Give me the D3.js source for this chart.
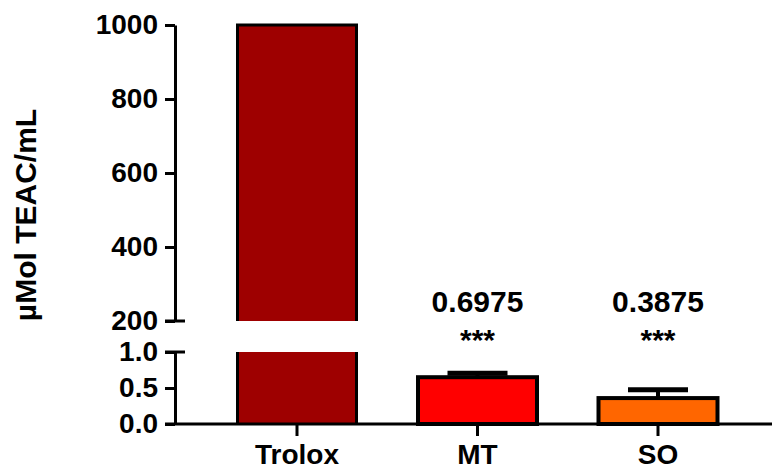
<!DOCTYPE html>
<html>
<head>
<meta charset="utf-8">
<script src="https://cdn.jsdelivr.net/npm/d3@7"></script>
<style>
  body { margin: 0; background: #ffffff; }
  svg text { font-family: "Liberation Sans", Arial, sans-serif; font-weight: bold; fill: #000; }
</style>
</head>
<body>
<div id="chart"></div>
<script>
// data
const categories = ['Trolox', 'MT', 'SO'];
const means = [1000, 0.65, 0.36];
const errors = [0, 0.055, 0.115];
const meanLabels = ['', '0.6975', '0.3875'];
const sigLabels = ['', '***', '***'];
const barColours = ['#9e0000', '#ff0000', '#ff6600'];
const topTicks = [200, 400, 600, 800, 1000];
const bottomTicks = [0, 0.5, 1.0];

const width = 774, height = 470;

const svg = d3.select('#chart').append('svg')
  .attr('width', width)
  .attr('height', height);

// broken y axis: two linear scales
const yTop = d3.scaleLinear().domain([200, 1000]).range([321, 25]);
const yBot = d3.scaleLinear().domain([0, 1]).range([424, 352]);
const x = d3.scalePoint().domain(categories).range([297, 658]);
const barW = 119;
const axisX = 175;

// bars: draw each piece in the segment(s) it reaches
categories.forEach((c, i) => {
  const v = means[i];
  const cx = x(c);
  const g = svg.append('g');
  const botTop = yBot(Math.min(v, 1));
  if (v <= 1 && errors[i] > 0) {
    // error bar (upper only), drawn under the bar outline
    const ey = yBot(v + errors[i]);
    g.append('line')
      .attr('x1', cx).attr('x2', cx).attr('y1', botTop).attr('y2', ey)
      .attr('stroke', '#000').attr('stroke-width', 4);
    g.append('line')
      .attr('x1', cx - 30).attr('x2', cx + 30).attr('y1', ey).attr('y2', ey)
      .attr('stroke', '#000').attr('stroke-width', 5);
  }
  g.append('rect')
    .attr('x', cx - barW / 2).attr('y', botTop)
    .attr('width', barW).attr('height', yBot(0) - botTop)
    .attr('fill', barColours[i]);
  if (v > 1) {
    const tTop = yTop(v);
    g.append('rect')
      .attr('x', cx - barW / 2).attr('y', tTop)
      .attr('width', barW).attr('height', yTop(200) - tTop)
      .attr('fill', barColours[i]);
    // outline, open at the break
    g.append('path')
      .attr('d', `M${cx - barW / 2},${yTop(200)}V${tTop}H${cx + barW / 2}V${yTop(200)}`)
      .attr('fill', 'none').attr('stroke', '#000').attr('stroke-width', 3);
    g.append('path')
      .attr('d', `M${cx - barW / 2},${yBot(1)}V${yBot(0)}M${cx + barW / 2},${yBot(1)}V${yBot(0)}`)
      .attr('fill', 'none').attr('stroke', '#000').attr('stroke-width', 3);
  } else {
    g.append('rect')
      .attr('x', cx - barW / 2).attr('y', botTop)
      .attr('width', barW).attr('height', yBot(0) - botTop)
      .attr('fill', 'none').attr('stroke', '#000').attr('stroke-width', 4);
  }
});

// y axes
const topAxis = svg.append('g')
  .attr('transform', `translate(${axisX},0)`)
  .call(d3.axisLeft(yTop).tickValues(topTicks).tickFormat(d3.format('d'))
    .tickSize(10).tickPadding(7).tickSizeOuter(0));
const botAxis = svg.append('g')
  .attr('transform', `translate(${axisX},0)`)
  .call(d3.axisLeft(yBot).tickValues(bottomTicks).tickFormat(d3.format('.1f'))
    .tickSize(10).tickPadding(7).tickSizeOuter(0));

[topAxis, botAxis].forEach(a => {
  a.select('.domain').attr('stroke-width', 3);
  a.selectAll('.tick line').attr('stroke-width', 3);
  a.selectAll('.tick text').attr('font-size', 28).attr('fill', '#000')
    .attr('font-family', '"Liberation Sans", Arial, sans-serif');
});
// small tick to the right at the break ends
topAxis.append('line').attr('x1', -10).attr('x2', 10)
  .attr('y1', yTop(200)).attr('y2', yTop(200)).attr('stroke', '#000').attr('stroke-width', 3);
botAxis.append('line').attr('x1', -10).attr('x2', 10)
  .attr('y1', yBot(1)).attr('y2', yBot(1)).attr('stroke', '#000').attr('stroke-width', 3);

// x axis
svg.append('line')
  .attr('x1', axisX - 10).attr('x2', 772)
  .attr('y1', yBot(0)).attr('y2', yBot(0))
  .attr('stroke', '#000').attr('stroke-width', 3);
categories.forEach(c => {
  svg.append('line')
    .attr('x1', x(c)).attr('x2', x(c))
    .attr('y1', yBot(0)).attr('y2', yBot(0) + 12)
    .attr('stroke', '#000').attr('stroke-width', 3);
  svg.append('text')
    .attr('x', x(c)).attr('y', 464)
    .attr('text-anchor', 'middle')
    .attr('font-size', 28)
    .text(c);
});

// value and significance labels
categories.forEach((c, i) => {
  if (meanLabels[i]) {
    svg.append('text')
      .attr('x', x(c)).attr('y', 312)
      .attr('text-anchor', 'middle').attr('font-size', 30)
      .text(meanLabels[i]);
  }
  if (sigLabels[i]) {
    svg.append('text')
      .attr('x', x(c)).attr('y', 350)
      .attr('text-anchor', 'middle').attr('font-size', 30)
      .text(sigLabels[i]);
  }
});

// y axis title
svg.append('text')
  .attr('transform', `translate(36,215) rotate(-90)`)
  .attr('text-anchor', 'middle')
  .attr('font-size', 30)
  .text('µMol TEAC/mL');
</script>
</body>
</html>
